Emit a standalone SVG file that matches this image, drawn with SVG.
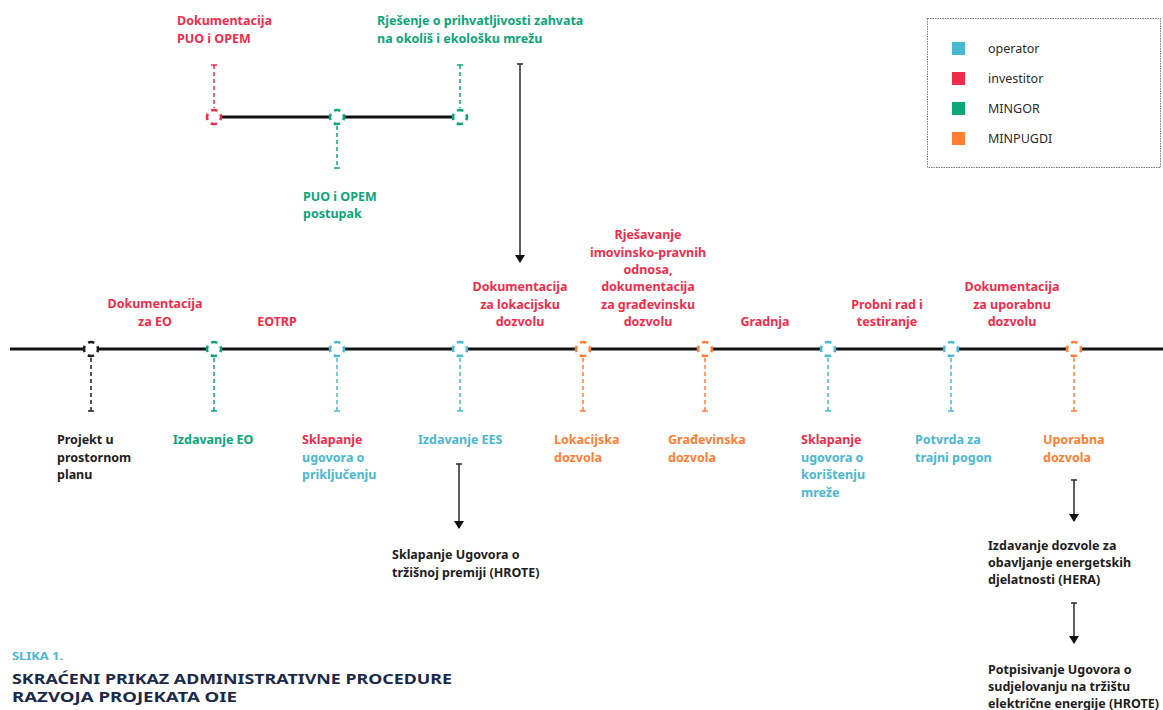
<svg xmlns="http://www.w3.org/2000/svg" width="1163" height="710" viewBox="0 0 1163 710">
<defs>
<style>
text{font-family:"Noto Sans","Liberation Sans",sans-serif;font-weight:700;font-size:12.5px}
.r{fill:#ef2d4b}.g{fill:#0ba57a}.b{fill:#4ab7d3}.o{fill:#ff7e33}.k{fill:#1d1d1d}
.c{text-anchor:middle}
.tl{stroke:#111;stroke-width:3;fill:none}
.node{fill:#fff;stroke-width:2.6;stroke-dasharray:6.4 4.6;stroke-dashoffset:3.2}
.dv{stroke-width:1.5;stroke-dasharray:4 3;fill:none}
.tick{stroke-width:1.5;fill:none}
.arr{stroke:#2a2a2a;stroke-width:1.5;fill:none;marker-end:url(#ah)}
.leg{font-weight:400;fill:#2b2b2b;font-size:12.5px}
</style>
<marker id="ah" viewBox="0 0 8 10" refX="7" refY="5" markerWidth="8" markerHeight="10" markerUnits="userSpaceOnUse" orient="auto">
<path d="M0,0 L8,5 L0,10 Z" fill="#111"/>
</marker>
</defs>

<g id="connectors">
<line class="tl" x1="10" y1="349" x2="1163" y2="349"/>
<line class="tl" x1="220" y1="117" x2="454" y2="117"/>
<g stroke="#1d1d1d"><line class="dv" x1="91" y1="358" x2="91" y2="411"/><line class="tick" x1="88" y1="411" x2="94" y2="411"/></g>
<g stroke="#0ba57a"><line class="dv" x1="214" y1="358" x2="214" y2="411"/><line class="tick" x1="211" y1="411" x2="217" y2="411"/></g>
<g stroke="#4ab7d3"><line class="dv" x1="337" y1="358" x2="337" y2="411"/><line class="tick" x1="334" y1="411" x2="340" y2="411"/></g>
<g stroke="#4ab7d3"><line class="dv" x1="460" y1="358" x2="460" y2="411"/><line class="tick" x1="457" y1="411" x2="463" y2="411"/></g>
<g stroke="#ff7e33"><line class="dv" x1="583" y1="358" x2="583" y2="411"/><line class="tick" x1="580" y1="411" x2="586" y2="411"/></g>
<g stroke="#ff7e33"><line class="dv" x1="705" y1="358" x2="705" y2="411"/><line class="tick" x1="702" y1="411" x2="708" y2="411"/></g>
<g stroke="#4ab7d3"><line class="dv" x1="828" y1="358" x2="828" y2="411"/><line class="tick" x1="825" y1="411" x2="831" y2="411"/></g>
<g stroke="#4ab7d3"><line class="dv" x1="951" y1="358" x2="951" y2="411"/><line class="tick" x1="948" y1="411" x2="954" y2="411"/></g>
<g stroke="#ff7e33"><line class="dv" x1="1074" y1="358" x2="1074" y2="411"/><line class="tick" x1="1071" y1="411" x2="1077" y2="411"/></g>
<g stroke="#ef2d4b"><line class="dv" x1="214" y1="65" x2="214" y2="108"/><line class="tick" x1="211" y1="65" x2="217" y2="65"/></g>
<g stroke="#0ba57a"><line class="dv" x1="460" y1="65" x2="460" y2="108"/><line class="tick" x1="457" y1="65" x2="463" y2="65"/></g>
<g stroke="#0ba57a"><line class="dv" x1="337" y1="126" x2="337" y2="168"/><line class="tick" x1="334" y1="168" x2="340" y2="168"/></g>
<g stroke="#2a2a2a">
<line class="tick" x1="517" y1="64" x2="523" y2="64"/>
<line class="arr" x1="520" y1="64" x2="520" y2="262"/>
<line class="tick" x1="456" y1="464" x2="462" y2="464"/>
<line class="arr" x1="459" y1="464" x2="459" y2="528"/>
<line class="tick" x1="1071" y1="480" x2="1077" y2="480"/>
<line class="arr" x1="1074" y1="480" x2="1074" y2="521"/>
<line class="tick" x1="1071" y1="603" x2="1077" y2="603"/>
<line class="arr" x1="1074" y1="603" x2="1074" y2="643"/>
</g>
</g>

<g id="n-top-1"><circle class="node" cx="214" cy="117" r="7" stroke="#ef2d4b"/>
<text class="r" x="177" y="25">Dokumentacija</text><text class="r" x="177" y="43">PUO i OPEM</text></g>
<g id="n-top-2"><circle class="node" cx="337" cy="117" r="7" stroke="#0ba57a"/>
<text class="g" x="303" y="201">PUO i OPEM</text><text class="g" x="303" y="218">postupak</text></g>
<g id="n-top-3"><circle class="node" cx="460" cy="117" r="7" stroke="#0ba57a"/>
<text class="g" x="377" y="25">Rješenje o prihvatljivosti zahvata</text><text class="g" x="377" y="43">na okoliš i ekološku mrežu</text></g>

<g id="n1"><circle class="node" cx="91" cy="349" r="7" stroke="#1d1d1d"/>
<text class="k" x="57" y="444">Projekt u</text><text class="k" x="57" y="461.5">prostornom</text><text class="k" x="57" y="479">planu</text></g>
<g id="n2"><circle class="node" cx="214" cy="349" r="7" stroke="#0ba57a"/>
<text class="g" x="173" y="444">Izdavanje EO</text></g>
<g id="n3"><circle class="node" cx="337" cy="349" r="7" stroke="#4ab7d3"/>
<text class="r" x="302" y="444">Sklapanje</text><text class="b" x="302" y="461.5">ugovora o</text><text class="b" x="302" y="479">priključenju</text></g>
<g id="n4"><circle class="node" cx="460" cy="349" r="7" stroke="#4ab7d3"/>
<text class="b" x="418" y="444">Izdavanje EES</text></g>
<g id="n5"><circle class="node" cx="583" cy="349" r="7" stroke="#ff7e33"/>
<text class="o" x="554" y="444">Lokacijska</text><text class="o" x="554" y="461.5">dozvola</text></g>
<g id="n6"><circle class="node" cx="705" cy="349" r="7" stroke="#ff7e33"/>
<text class="o" x="668" y="444">Građevinska</text><text class="o" x="668" y="461.5">dozvola</text></g>
<g id="n7"><circle class="node" cx="828" cy="349" r="7" stroke="#4ab7d3"/>
<text class="r" x="801" y="444">Sklapanje</text><text class="b" x="801" y="461.5">ugovora o</text><text class="b" x="801" y="479">korištenju</text><text class="b" x="801" y="496.5">mreže</text></g>
<g id="n8"><circle class="node" cx="951" cy="349" r="7" stroke="#4ab7d3"/>
<text class="b" x="915" y="444">Potvrda za</text><text class="b" x="915" y="461.5">trajni pogon</text></g>
<g id="n9"><circle class="node" cx="1074" cy="349" r="7" stroke="#ff7e33"/>
<text class="o" x="1043" y="444">Uporabna</text><text class="o" x="1043" y="461.5">dozvola</text></g>

<g id="phase-labels">
<text class="r c" x="155" y="308">Dokumentacija</text><text class="r c" x="155" y="326">za EO</text>
<text class="r c" x="277" y="326">EOTRP</text>
<text class="r c" x="520" y="291">Dokumentacija</text><text class="r c" x="520" y="308.5">za lokacijsku</text><text class="r c" x="520" y="326">dozvolu</text>
<text class="r c" x="648" y="239">Rješavanje</text><text class="r c" x="648" y="256.5">imovinsko-pravnih</text><text class="r c" x="648" y="274">odnosa,</text><text class="r c" x="648" y="291">dokumentacija</text><text class="r c" x="648" y="308.5">za građevinsku</text><text class="r c" x="648" y="326">dozvolu</text>
<text class="r c" x="765" y="326">Gradnja</text>
<text class="r c" x="887" y="308.5">Probni rad i</text><text class="r c" x="887" y="326">testiranje</text>
<text class="r c" x="1012" y="291">Dokumentacija</text><text class="r c" x="1012" y="308.5">za uporabnu</text><text class="r c" x="1012" y="326">dozvolu</text>
</g>

<g id="n-hrote1"><text class="k" x="392" y="559">Sklapanje Ugovora o</text><text class="k" x="392" y="577">tržišnoj premiji (HROTE)</text></g>
<g id="n-hera"><text class="k" x="988" y="550">Izdavanje dozvole za</text><text class="k" x="988" y="567">obavljanje energetskih</text><text class="k" x="988" y="584">djelatnosti (HERA)</text></g>
<g id="n-hrote2"><text class="k" x="988" y="674">Potpisivanje Ugovora o</text><text class="k" x="988" y="691">sudjelovanju na tržištu</text><text class="k" x="988" y="708">električne energije (HROTE)</text></g>

<g id="legend">
<rect x="927.5" y="18.5" width="233" height="149" fill="none" stroke="#777" stroke-width="1" stroke-dasharray="1.5 1"/>
<rect x="952" y="42" width="13" height="13" fill="#4ab7d3"/><text class="leg" x="988" y="53">operator</text>
<rect x="952" y="72" width="13" height="13" fill="#ef2d4b"/><text class="leg" x="988" y="83">investitor</text>
<rect x="952" y="102" width="13" height="13" fill="#0ba57a"/><text class="leg" x="988" y="113">MINGOR</text>
<rect x="952" y="132" width="13" height="13" fill="#ff7e33"/><text class="leg" x="988" y="143">MINPUGDI</text>
</g>

<g id="caption">
<text x="12" y="660" textLength="51" lengthAdjust="spacingAndGlyphs" style="fill:#4ab7d3;font-size:10px">SLIKA 1.</text>
<text x="12" y="684" textLength="440" lengthAdjust="spacingAndGlyphs" style="fill:#1b2a4a;font-size:14.5px">SKRAĆENI PRIKAZ ADMINISTRATIVNE PROCEDURE</text>
<text x="12" y="702" textLength="225" lengthAdjust="spacingAndGlyphs" style="fill:#1b2a4a;font-size:14.5px">RAZVOJA PROJEKATA OIE</text>
</g>
</svg>
